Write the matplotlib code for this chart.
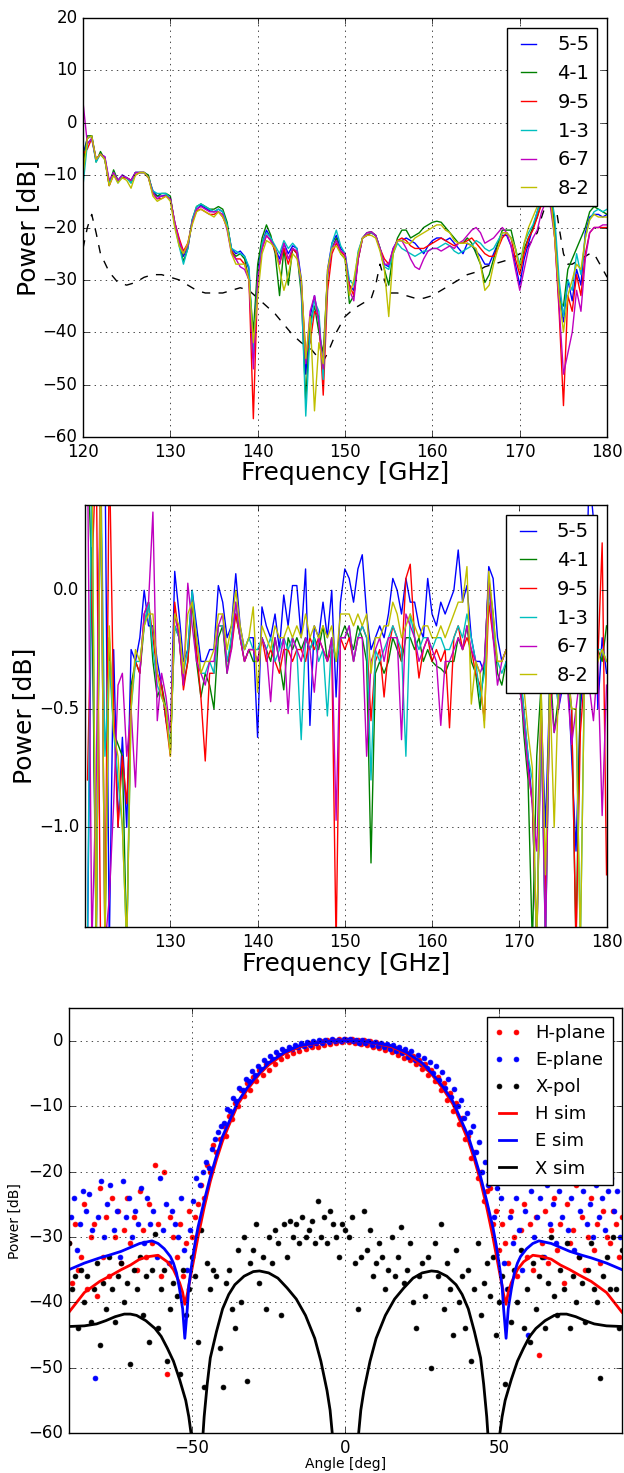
import numpy as np
import matplotlib
matplotlib.use("Agg")
import matplotlib.pyplot as plt

plt.style.use("classic")
plt.rcParams["figure.facecolor"] = "white"
plt.rcParams["savefig.facecolor"] = "white"
plt.rcParams["font.family"] = ["DejaVu Sans"]

labels = ["5-5", "4-1", "9-5", "1-3", "6-7", "8-2"]
colors = ["b", "g", "r", "c", "m", "y"]

# ---------- panel 1: transmitted power, 120-180 GHz every 0.5 GHz ----------
freq1 = np.arange(120.0, 180.01, 0.5)

p1_55 = [
    -6, -3, -2.5, -7, -6, -6.5, -11.5, -9.5, -11, -10,
    -10.5, -11, -9.5, -9.5, -9.5, -10.5, -13, -14, -14, -13.8,
    -14.5, -19, -22.5, -25.5, -23.5, -19, -16.5, -15.8, -16.3, -16.8,
    -17, -16.5, -17, -19.5, -24, -25, -24.5, -25.5, -28, -45,
    -28, -23, -20.5, -22, -24, -26, -23, -25, -23.5, -24,
    -30, -48, -37, -33, -38, -48, -28, -23, -21.5, -24,
    -25, -31, -32, -25, -22, -21.5, -21, -21.5, -24, -27,
    -27.5, -24, -22.5, -22.5, -22, -22.5, -23, -24, -25, -23.5,
    -22.5, -22, -22, -22.5, -22, -23, -24, -25, -23, -23.5,
    -24.5, -25.5, -27, -27, -25, -23, -21.5, -21.5, -23.5, -27,
    -31, -26, -23, -20, -17, -14, -12, -13.5, -20, -32,
    -38, -30, -34, -28, -31, -21, -18, -17.5, -17.5, -18,
    -17.5]
p1_41 = [
    -8, -2.5, -2.5, -7.5, -5.5, -7, -12, -9, -11, -10.5,
    -10.5, -11.5, -9.5, -9.5, -9.5, -10, -13.5, -14, -13.5, -13.5,
    -14, -19.5, -23, -26.5, -24, -18.5, -16, -15.5, -16, -16.5,
    -16.5, -16, -16.5, -19, -24.5, -25.5, -25, -26, -30, -40,
    -27, -22, -19.5, -21.5, -25, -33, -24, -31, -24, -25,
    -33, -53, -38, -35, -40, -44, -29, -24, -22, -25,
    -26, -34.5, -33, -26, -22, -21, -20.8, -21.5, -24, -28,
    -31, -25, -22, -20.5, -20.5, -22, -21.5, -21, -20, -19.5,
    -19, -18.8, -19, -20, -21, -22, -23, -23, -22, -23,
    -25, -27, -30.5, -29, -26, -23, -20.5, -20.5, -20.5, -24,
    -28, -24, -22, -20, -18, -15, -13, -12.5, -20, -34,
    -35, -28, -26, -24, -22, -20, -17, -16, -16.5, -17,
    -17.5]
p1_95 = [
    -6, -5, -3, -7, -6, -7, -12, -10, -11, -10.5,
    -10.5, -11, -10, -9.5, -9.5, -10.5, -13.5, -14.5, -14.5, -14,
    -14.5, -19, -22, -24.5, -23, -19, -16.8, -16.5, -17, -17.5,
    -17.5, -17, -18, -20, -24.5, -26, -26, -27, -30, -56.5,
    -30, -24, -21.5, -22.5, -24.5, -27, -24, -27, -24, -25,
    -31, -44, -42, -36, -37, -52, -32, -25, -23, -24.5,
    -25.5, -31, -33, -26, -22, -21.5, -21, -21.5, -24, -26,
    -27, -24.5, -22.5, -22, -22.5, -23.5, -24, -24, -24, -23.5,
    -23, -22.5, -22, -22.5, -23, -23.5, -23, -23, -22.5, -22,
    -23, -24, -25, -25.5, -25.5, -24, -22, -21, -22, -26,
    -29, -25, -22, -20.5, -18, -15.5, -13, -14, -22, -36,
    -54, -33, -36, -29, -33, -25, -21, -20, -20, -20,
    -20]
p1_13 = [
    -12, -4, -3, -7.5, -6, -7, -11.5, -9.5, -11.5, -10,
    -10.5, -11.5, -9.5, -9.5, -9.5, -10.5, -13, -13.5, -13.5, -13.5,
    -14.5, -19.5, -23.5, -27, -24, -18.5, -16, -15.5, -16, -16.5,
    -17, -16.5, -17, -19.5, -24, -24.5, -25, -25.5, -27.5, -44,
    -30, -23, -21, -22, -23.5, -25, -22.5, -24, -23, -24,
    -32, -56, -40, -34, -36, -49, -29, -23, -20.5, -23.5,
    -25, -30, -31, -24.5, -22, -21, -21, -21.5, -24, -27.5,
    -28, -25, -23, -24, -24.5, -25, -25.5, -25, -24.5, -24.5,
    -24, -24, -23.5, -23, -23.5, -24.5, -25, -24.5, -24, -23.5,
    -22.5, -23, -24, -24.5, -24, -22.5, -21, -21, -22, -24,
    -27, -23, -21, -19.5, -17, -14.5, -12.5, -13, -18, -30,
    -37, -30, -32, -25, -29, -22, -18.5, -17, -16.5, -17,
    -16.5]
p1_67 = [
    4, -4, -3, -7, -6, -6.5, -11, -9.5, -11, -10,
    -10.5, -11, -9.5, -9.5, -9.5, -10.5, -13.5, -14.5, -14, -14,
    -14.5, -19, -22.5, -25, -23.5, -19, -16.5, -16, -16.5, -17,
    -17, -17, -17.5, -20.5, -25, -26, -27.5, -28, -30, -47,
    -30, -24, -21.5, -22.5, -24, -27, -23, -26, -24, -24.5,
    -31, -46, -36, -33, -38, -47, -29, -24, -22.5, -24.5,
    -25, -32, -34, -26, -22, -21, -20.8, -21.5, -24, -27,
    -27, -24, -22.5, -22.5, -24, -26, -27.5, -28, -26, -24.5,
    -24, -24, -24.5, -24, -23.5, -24, -23, -22.5, -21.5, -20.5,
    -20, -21, -23, -22.5, -22, -21, -20, -21, -23.5, -28,
    -32, -28, -24, -22, -20.5, -17, -15, -16, -22, -35,
    -48, -44, -40, -32, -36, -26, -21, -20, -20, -19.5,
    -19.5]
p1_82 = [
    -10, -3, -2.5, -7, -6, -7, -12, -10, -11.5, -10.5,
    -11, -12.5, -10, -9.5, -9.5, -10.5, -14, -15, -14.5, -14,
    -15, -20, -23.5, -25, -23, -19.5, -17, -16.5, -17, -17.5,
    -18, -17, -18, -20, -25, -27, -27, -27, -30, -42,
    -33, -25, -22.5, -23, -24, -28, -32, -29, -25, -26,
    -30, -45, -37, -55, -42, -46, -28, -24, -23.5, -25,
    -26, -33, -30, -25, -22, -21.5, -21.5, -22, -24.5, -28,
    -37, -25, -22.5, -22.5, -23, -23, -22, -21.5, -21, -20.5,
    -20, -19.5, -19.5, -20.5, -21, -22.5, -23, -23, -23, -23.5,
    -24, -27, -32, -31, -27, -24, -21, -21, -22, -24,
    -28, -23, -20, -18, -16, -14, -13, -14, -22, -33,
    -40, -33, -30, -27, -28, -22, -18.5, -17.5, -18, -18,
    -18]

# simulated curve (dashed)
sim_freq = [120, 120.5, 121, 121.5, 122,
            123, 124, 125, 126, 127, 128, 129, 130, 131, 132, 133, 134, 135,
            136, 137, 138, 139, 140, 141, 142, 143, 144, 145, 146, 147,
            147.5, 148, 149, 150, 151, 152, 153, 153.5, 154, 154.5,
            155, 156, 157, 158, 159, 160, 161, 162, 163, 164, 165, 166, 167,
            168, 169, 170, 171, 172, 172.5, 173, 173.5, 174, 174.5, 175,
            175.5, 176, 176.5, 177, 177.5, 178, 178.5, 179, 179.5, 180]
sim_power = [-24, -20, -17.5, -21, -25,
             -28.5, -30.5, -31, -30.5, -29.5, -29, -29, -29.5, -30, -31, -32,
             -32.5, -32.5, -32.5, -32, -31.5, -32, -33.5, -35, -36.5, -38.5,
             -40.5, -42, -43, -45,
             -45.5, -44, -40, -37, -35.5, -34.5, -33.5, -31, -27, -30,
             -32.5, -32.5, -33, -33.5, -33.5, -33, -32, -31, -30, -29, -28.5,
             -27.5, -27, -26.5, -26, -25, -23.5, -21, -18, -15.5, -13.5,
             -14.5, -20, -25, -27, -27, -26.5, -26, -25.5, -25, -25, -26.5,
             -28, -29.5]

# ---------- panel 2: normalised power, 120.5-180 GHz every 0.5 GHz ----------
freq2 = np.arange(120.5, 180.01, 0.5)

p2_55 = [
    -1.5, 0.18, -1.5, 0.6, 0.6, -1.5, -0.25, -1.0, -0.62, -1.0,
    -0.25, -0.3, -0.2, 0.0, -0.15, -0.15, -0.3, -0.4, -0.55, -0.65,
    0.08, -0.1, -0.3, -0.25, 0.0, -0.15, -0.3, -0.3, -0.25, -0.25,
    0.02, -0.05, -0.2, -0.15, 0.07, -0.15, -0.25, -0.2, -0.2, -0.62,
    -0.07, -0.15, -0.2, -0.1, -0.25, -0.02, -0.15, 0.02, 0.02, -0.2,
    0.09, -0.57, -0.15, -0.2, -0.05, -0.2, 0.0, -0.45, -0.05, 0.09,
    0.05, -0.05, 0.09, 0.15, -0.1, -0.25, -0.2, -0.15, -0.2, -0.1,
    0.05, 0.0, -0.1, 0.05, -0.05, -0.05, -0.15, -0.2, 0.05, -0.1,
    -0.15, -0.05, -0.1, -0.05, 0.0, 0.17, -0.05, 0.02, -0.2, -0.3,
    -0.3, -0.35, 0.1, 0.05, -0.2, -0.3, -0.25, -0.25, -0.2, -0.3,
    -0.5, -0.7, -0.9, -1.5, -0.5, -1.0, -0.4, -0.3, -0.5, -0.4,
    -0.3, -0.7, -1.1, -0.5, -0.3, 0.5, 0.3, -0.5, -0.2, -0.35]
p2_41 = [
    0.6, 0.06, -1.5, 0.6, -1.5, -0.2, -0.6, -0.65, -0.7, -1.5,
    -0.4, -0.3, -0.35, -0.15, -0.05, -0.3, -0.45, -0.4, -0.5, -0.68,
    -0.15, -0.2, -0.4, -0.3, -0.05, -0.3, -0.45, -0.35, -0.4, -0.5,
    -0.2, -0.15, -0.35, -0.2, -0.1, -0.2, -0.3, -0.25, -0.3, -0.3,
    -0.2, -0.25, -0.3, -0.2, -0.3, -0.42, -0.2, -0.25, -0.2, -0.25,
    -0.2, -0.25, -0.2, -0.25, -0.15, -0.3, -0.2, -0.3, -0.2, -0.15,
    -0.2, -0.25, -0.15, -0.2, -0.3, -1.15, -0.35, -0.3, -0.35, -0.3,
    -0.2, -0.25, -0.3, -0.2, -0.2, -0.25, -0.2, -0.3, -0.25, -0.3,
    -0.32, -0.33, -0.35, -0.3, -0.3, -0.2, -0.25, -0.15, -0.3, -0.35,
    -0.5, -0.3, 0.05, -0.1, -0.35, -0.4, -0.3, -0.3, -0.35, -0.3,
    -0.6, -0.8, -1.5, -0.7, -0.4, -1.5, -0.3, -0.6, -0.45, -0.3,
    -0.4, -0.5, -1.5, -0.4, -0.3, -0.2, -0.35, -0.25, -0.3, -0.15]
p2_95 = [
    -0.8, 0.06, 0.6, -1.5, -1.5, 0.6, -0.5, -1.0, -0.7, -0.9,
    -0.45, -0.3, -0.35, -0.1, -0.05, -0.2, -0.35, -0.4, -0.55, -0.7,
    -0.05, -0.2, -0.42, -0.3, -0.02, -0.25, -0.45, -0.72, -0.35, -0.35,
    -0.15, -0.15, -0.3, -0.25, -0.1, -0.2, -0.3, -0.25, -0.25, -0.3,
    -0.2, -0.3, -0.25, -0.3, -0.35, -0.25, -0.25, -0.3, -0.25, -0.25,
    -0.3, -0.2, -0.25, -0.2, -0.25, -0.3, -0.25, -1.5, -0.2, -0.25,
    -0.2, -0.3, -0.2, -0.15, -0.2, -0.55, -0.3, -0.25, -0.45, -0.25,
    -0.15, -0.2, -0.3, 0.05, 0.11, -0.2, -0.37, -0.25, -0.2, -0.3,
    -0.25, -0.3, -0.25, -0.58, -0.2, -0.15, -0.25, -0.2, -0.25, -0.35,
    -0.4, -0.55, -0.05, -0.2, -0.3, -0.3, -0.25, -0.3, -0.3, -0.35,
    -0.5, -0.75, -0.9, -1.5, -0.6, -1.3, -0.5, -0.35, -0.45, -0.3,
    -0.3, -0.5, -1.5, -0.6, -0.35, -0.25, -0.4, -0.3, 0.2, -1.2]
p2_13 = [
    -1.5, 0.6, -1.5, 0.6, -0.7, -0.3, -0.6, -0.8, -1.0, -1.5,
    -0.5, -0.3, -0.3, -0.15, -0.05, -0.25, -0.4, -0.45, -0.5, -0.68,
    -0.15, -0.2, -0.35, -0.25, 0.0, -0.2, -0.35, -0.35, -0.3, -0.35,
    -0.15, -0.15, -0.3, -0.2, -0.05, -0.2, -0.25, -0.2, -0.25, -0.25,
    -0.2, -0.25, -0.2, -0.3, -0.25, -0.2, -0.25, -0.2, -0.25, -0.63,
    -0.2, -0.25, -0.2, -0.3, -0.25, -0.53, -0.2, -0.3, -0.2, -0.2,
    -0.15, -0.3, -0.2, -0.15, -0.2, -0.8, -0.25, -0.3, -0.25, -0.2,
    -0.15, -0.2, -0.25, -0.7, -0.1, -0.2, -0.25, -0.2, -0.2, -0.25,
    -0.2, -0.2, -0.25, -0.25, -0.2, -0.15, -0.2, -0.1, -0.2, -0.3,
    -0.45, -0.35, 0.0, -0.15, -0.3, -0.35, -0.3, -0.3, -0.35, -0.3,
    -0.5, -0.7, -0.8, -1.5, -0.55, -1.5, -0.4, -0.3, -0.5, -0.3,
    -0.35, -0.5, -0.5, -1.5, -0.3, -0.25, -0.35, -0.25, -0.25, -0.3]
p2_67 = [
    0.6, -1.5, -0.8, 0.6, -1.5, -1.3, -0.9, -0.4, -0.35, -0.7,
    -0.5, -0.83, -0.35, -0.1, -0.05, 0.33, -0.55, -0.35, -0.45, -0.6,
    -0.1, -0.2, -0.4, 0.03, -0.15, -0.3, -0.35, -0.4, -0.3, -0.3,
    -0.15, -0.1, -0.35, -0.25, -0.05, -0.2, -0.3, -0.25, -0.25, -0.3,
    -0.2, -0.25, -0.47, -0.2, -0.3, -0.2, -0.52, -0.2, -0.25, -0.3,
    -0.2, -0.25, -0.43, -0.2, -0.25, -0.3, -0.2, -0.97, -0.2, -0.2,
    -0.15, -0.3, -0.2, -0.2, -0.7, -0.3, -0.25, -0.2, -0.3, -0.2,
    -0.2, -0.2, -0.63, -0.1, -0.15, -0.2, -0.3, -0.25, -0.2, -0.25,
    -0.3, -0.57, -0.3, -0.3, -0.25, -0.2, -0.25, -0.15, -0.25, -0.3,
    -0.35, -0.3, 0.05, -0.2, -0.4, -0.3, -0.25, -0.35, -0.3, -0.4,
    -0.55, -0.75, -0.9, -1.1, -0.5, -1.5, -0.4, -0.6, -0.5, -0.35,
    -0.4, -0.65, -0.5, -0.35, -0.3, -0.4, -0.55, -0.3, -0.95, -0.4]
p2_82 = [
    0.6, 0.6, -1.5, 0.6, -1.5, -0.15, -0.6, -0.7, -1.0, -1.5,
    -0.5, -0.25, -0.3, -0.15, -0.1, -0.1, -0.35, -0.45, -0.5, -0.7,
    -0.1, -0.15, -0.35, -0.1, -0.05, -0.2, -0.35, -0.3, -0.3, -0.25,
    -0.1, -0.1, -0.25, -0.15, 0.0, -0.15, -0.25, -0.2, -0.07, -0.43,
    -0.15, -0.2, -0.25, -0.15, -0.2, -0.2, -0.15, -0.2, -0.15, -0.2,
    -0.1, -0.2, -0.15, -0.2, -0.15, -0.2, -0.15, -0.3, -0.1, -0.1,
    -0.1, -0.15, -0.1, -0.15, -0.1, -0.35, -0.2, -0.2, -0.15, -0.15,
    -0.05, -0.1, -0.2, -0.15, -0.1, -0.15, -0.2, -0.15, -0.15, -0.2,
    -0.2, -0.15, -0.2, -0.15, -0.1, -0.05, -0.05, 0.1, -0.48, -0.3,
    -0.35, -0.58, 0.08, -0.1, -0.3, -0.3, -0.25, -0.3, -0.3, -0.25,
    -0.4, -0.6, -0.75, -1.5, -0.4, -1.2, -0.4, -1.0, -0.4, -0.3,
    -0.35, -0.5, -0.5, -1.5, -0.3, -0.2, -0.3, -0.3, -0.25, -0.3]

# ---------- panel 3: beam pattern ----------
ang_h = np.arange(-90, 91, 1)        # H-plane and X-pol sampling
ang_e = np.arange(-89.5, 90, 1)      # E-plane sampling

h_plane = [
    -31, -37, -28, -35, -33, -25, -38, -30, -28, -39,
    -22.5, -33, -27, -36, -24, -30, -26, -34, -29, -24,
    -31, -27, -35, -23, -29, -33, -25, -31, -19, -28,
    -36, -20, -51, -27, -30, -33, -28, -36, -31, -26,
    -30, -27, -25, -22, -24, -19, -20, -16, -17, -15,
    -13, -14.5, -11.5, -12, -9.5, -10, -7.5, -8.5, -6.5, -7.5,
    -5.5, -6.2, -4.5, -5.2, -3.6, -4.4, -2.9, -3.6, -2.2, -2.8,
    -1.6, -2.3, -1.2, -1.9, -0.9, -1.5, -0.7, -1.3, -0.4, -1.0,
    -0.3, -0.9, -0.1, -0.6, 0.1, -0.5, 0.2, -0.3, 0.3, -0.2,
    0.3, -0.2, 0.3, -0.4, 0.2, -0.5, 0.1, -0.7, -0.1, -0.9,
    -0.2, -1.1, -0.5, -1.4, -0.8, -1.7, -1.1, -2.1, -1.5, -2.6,
    -1.8, -3.0, -2.3, -3.6, -2.9, -4.3, -3.6, -5.2, -4.4, -6.2,
    -5.6, -7.5, -6.5, -9.0, -8.0, -10.8, -9.5, -12.8, -11.8, -15.0,
    -14.5, -18.0, -17.0, -21.0, -20.0, -24.5, -23.0, -22.5, -28.0, -26,
    -32, -28, -31, -34, -26, -30, -36, -29, -25, -33,
    -28, -35, -27, -48, -31, -26, -34, -29, -24, -32,
    -28, -37, -25, -31, -29, -22, -33, -27, -35, -30,
    -24, -32, -28, -34, -26, -30, -31, -26, -28, -33,
    -27]
e_plane = [
    -27, -24, -32, -28, -23, -26, -23.5, -29, -51.5, -27,
    -21.5, -30, -25, -22, -29, -26, -33, -21.5, -27, -24,
    -30, -26, -28, -22.5, -31, -24, -28, -26, -33, -21,
    -29, -25, -34, -26, -28, -30, -24, -32, -35, -29,
    -24.5, -21, -22, -20, -18.5, -19.5, -16.5, -15, -14, -13,
    -12.5, -10.5, -10.8, -8.8, -9.2, -7.2, -7.6, -5.8, -6.2, -4.6,
    -5.2, -3.8, -4.3, -3.0, -3.4, -2.3, -2.8, -1.7, -2.1, -1.2,
    -1.6, -0.9, -1.3, -0.6, -1.0, -0.4, -0.8, -0.2, -0.6, -0.1,
    -0.4, 0.1, -0.3, 0.2, -0.2, 0.3, -0.1, 0.2, 0.0, 0.3,
    0.1, 0.3, -0.1, 0.2, -0.3, 0.1, -0.4, -0.1, -0.6, -0.2,
    -0.8, -0.3, -1.0, -0.5, -1.3, -0.7, -1.6, -1.0, -1.9, -1.3,
    -2.4, -1.6, -2.9, -2.1, -3.5, -2.6, -4.2, -3.2, -5.0, -3.9,
    -6.0, -4.8, -7.2, -5.9, -8.6, -7.3, -10.0, -9.0, -11.8, -11.0,
    -14.0, -13.0, -17.0, -15.5, -20.0, -18.5, -22, -21, -27, -22.5,
    -24, -34, -38, -27, -31, -24, -29, -35, -26, -45,
    -23, -30, -27, -24, -33, -22, -28, -25, -31, -23,
    -27, -21, -29, -24, -32, -21, -26, -23, -28, -25,
    -30, -22, -27, -24, -29, -23, -21, -26, -23, -30]
x_pol = [
    -31, -38, -36, -44, -35, -40, -36, -43, -38, -34,
    -46.5, -37, -41, -33, -38, -43, -36, -34, -40, -37,
    -49.5, -35, -38, -33, -42, -36, -46, -35, -29.5, -44,
    -38, -35, -49, -41, -37, -39, -51, -35, -42, -38,
    -33, -36, -46, -29, -53, -34, -38, -35, -36, -47,
    -53, -37, -35, -41, -44, -32, -40, -30, -52, -34,
    -32, -28, -37, -33, -41, -30, -34, -29, -31, -42,
    -28, -33, -27.5, -30, -28, -31, -27, -30, -29, -27.5,
    -31, -24.5, -30, -27, -31, -26, -28, -30, -33, -28,
    -29, -30, -27, -34, -41, -33, -26, -32, -29, -36,
    -34, -31, -33, -38, -35, -30, -36, -33, -28.5, -37,
    -35, -31, -40, -44, -36, -34, -39, -33, -50, -31,
    -36, -28, -41, -34, -38, -45, -32, -40, -36, -44,
    -35, -49, -38, -31, -42, -37, -34, -39, -33, -45,
    -40, -36, -52.5, -38, -43, -35, -40, -32, -44, -38,
    -46, -34, -41, -36, -33, -44, -37, -30, -39, -42,
    -35, -38, -31, -44, -36, -40, -33, -37, -43, -35,
    -31, -38, -40, -51.5, -36, -33, -38, -30, -38, -44,
    -32]

h_sim_ang = [-90, -85, -80, -76, -73, -70, -67, -64, -61, -58,
             -56, -54, -53, -52.3, -51.5, -51, -50, -49, -48, -46,
             -44, -42, -40, -38, -35, -32, -30, -28, -25, -20,
             -15, -10, -5, 0, 5, 10, 15, 20, 25, 28,
             30, 32, 35, 38, 40, 42, 44, 46, 48, 49,
             50, 51, 51.5, 52.3, 53, 54, 56, 58, 61, 64,
             67, 70, 73, 76, 80, 85, 90]
h_sim_db = [-41.5, -38.5, -36.8, -35.8, -35, -34.3, -33.4, -33, -32.8, -33.8,
            -35, -37, -38.5, -40.3, -38.8, -37.5, -35, -32.5, -30, -25.5,
            -21.5, -18.2, -15.3, -13, -9.7, -7.5, -6.3, -5.1, -3.7, -2.0,
            -0.9, -0.4, -0.05, 0, -0.05, -0.4, -0.9, -2.0, -3.7, -5.1,
            -6.3, -7.5, -9.7, -13, -15.3, -18.2, -21.5, -25.5, -30, -32.5,
            -35, -37.5, -38.8, -40.3, -38.5, -37, -35, -33.8, -32.8, -33,
            -33.4, -34.3, -35, -35.8, -36.8, -38.5, -41.5]

e_sim_ang = [-90, -85, -80, -77, -73, -70, -67, -63, -61, -59,
             -57, -56, -55, -54, -53, -52.3, -51.5, -51, -50, -49,
             -48, -46, -44, -42, -40, -38, -35, -32, -30, -28,
             -25, -20, -15, -10, -5, 0, 5, 10, 15, 20,
             25, 28, 30, 32, 35, 38, 40, 42, 44, 46,
             48, 49, 50, 51, 51.5, 52.3, 53, 54, 55, 56,
             57, 59, 61, 63, 67, 70, 73, 77, 80, 85, 90]
e_sim_db = [-35, -34, -33.2, -32.8, -32.2, -31.6, -31, -30.6, -31, -31.8,
            -33, -34, -35.5, -38, -41, -45.5, -41, -37.5, -34, -31,
            -28.5, -24.5, -20.8, -17.6, -14.6, -12.5, -9.3, -7.2, -6, -4.9,
            -3.4, -1.8, -0.75, -0.35, -0.05, 0, -0.05, -0.35, -0.75, -1.8,
            -3.4, -4.9, -6, -7.2, -9.3, -12.5, -14.6, -17.6, -20.8, -24.5,
            -28.5, -31, -34, -37.5, -41, -45.5, -41, -38, -35.5, -34,
            -33, -31.8, -31, -30.6, -31, -31.6, -32.2, -32.8, -33.2, -34, -35]

x_sim_ang = [-90, -85, -81, -78, -75, -72, -70, -68, -65, -62,
             -60, -58, -56, -54, -52, -51, -50, -49.5, -47, -46.5,
             -46, -45, -44, -42, -40, -38, -36, -33, -30, -28,
             -25, -22, -19, -16, -13, -10, -8, -6, -5, -4.2,
             -3.5, 0, 3.5, 4.2, 5, 6, 8, 10, 13, 16,
             19, 22, 25, 28, 30, 33, 36, 38, 40, 42,
             44, 45, 46, 46.5, 47, 49.5, 50, 51, 52, 54,
             56, 58, 60, 62, 65, 68, 70, 72, 75, 78,
             81, 85, 90]
x_sim_db = [-43.7, -43.6, -43.3, -42.8, -42.2, -41.8, -41.8, -42, -42.8, -44,
            -45.2, -47, -49, -51.8, -55, -57.5, -61, -75, -75, -61,
            -57.5, -52.5, -48.5, -44.5, -41, -38.8, -37.3, -36, -35.3, -35.2,
            -35.5, -36.3, -37.8, -39.5, -42, -45.5, -49, -53.5, -56.5, -60.5,
            -75, -90, -75, -60.5, -56.5, -53.5, -49, -45.5, -42, -39.5,
            -37.8, -36.3, -35.5, -35.2, -35.3, -36, -37.3, -38.8, -41, -44.5,
            -48.5, -52.5, -57.5, -61, -75, -75, -61, -57.5, -55, -51.8,
            -49, -47, -45.2, -44, -42.8, -42, -41.8, -41.8, -42.2, -42.8,
            -43.3, -43.6, -43.7]

fig = plt.figure(figsize=(6.24, 14.73), dpi=100)

# panel 1
ax1 = fig.add_axes([0.133, 0.7033, 0.840, 0.2845])
ax1.plot(sim_freq, sim_power, color="k", linestyle="--", linewidth=1)
for vals, lab, col in zip([p1_55, p1_41, p1_95, p1_13, p1_67, p1_82], labels, colors):
    ax1.plot(freq1, vals, color=col, label=lab)
ax1.set_xlim(120, 180)
ax1.set_ylim(-60, 20)
ax1.grid(True)
ax1.set_xlabel("Frequency [GHz]", fontsize=18, labelpad=0)
ax1.set_ylabel("Power [dB]", fontsize=18, labelpad=2)
ax1.legend(loc="upper right", fontsize=14, handlelength=1.4)

# panel 2
ax2 = fig.add_axes([0.136, 0.3707, 0.836, 0.2865])
for vals, lab, col in zip([p2_55, p2_41, p2_95, p2_13, p2_67, p2_82], labels, colors):
    ax2.plot(freq2, vals, color=col, label=lab)
ax2.set_xlim(120.2, 180)
ax2.set_ylim(-1.42, 0.36)
ax2.set_yticks([-1.0, -0.5, 0.0])
ax2.set_xticks([130, 140, 150, 160, 170, 180])
ax2.grid(True)
ax2.set_xlabel("Frequency [GHz]", fontsize=18, labelpad=1)
ax2.set_ylabel("Power [dB]", fontsize=18, labelpad=2)
ax2.legend(loc="upper right", fontsize=14, handlelength=1.4)

# panel 3
ax3 = fig.add_axes([0.1106, 0.0271, 0.886, 0.2885])
ax3.plot(ang_h, h_plane, ".", color="r", markersize=7, label="H-plane")
ax3.plot(ang_e, e_plane, ".", color="b", markersize=7, label="E-plane")
ax3.plot(ang_h, x_pol, ".", color="k", markersize=7, label="X-pol")
ax3.plot(h_sim_ang, h_sim_db, color="r", linewidth=2, label="H sim")
ax3.plot(e_sim_ang, e_sim_db, color="b", linewidth=2, label="E sim")
ax3.plot(x_sim_ang, x_sim_db, color="k", linewidth=2, label="X sim")
ax3.set_xlim(-90, 90)
ax3.set_ylim(-60, 5)
ax3.set_xticks([-50, 0, 50])
ax3.set_yticks([0, -10, -20, -30, -40, -50, -60])
ax3.grid(True)
ax3.set_xlabel("Angle [deg]", fontsize=10, labelpad=0)
ax3.set_ylabel("Power [dB]", fontsize=10)
ax3.legend(loc="upper right", fontsize=13, handlelength=1.5)

fig.savefig("out.png", dpi=100)
